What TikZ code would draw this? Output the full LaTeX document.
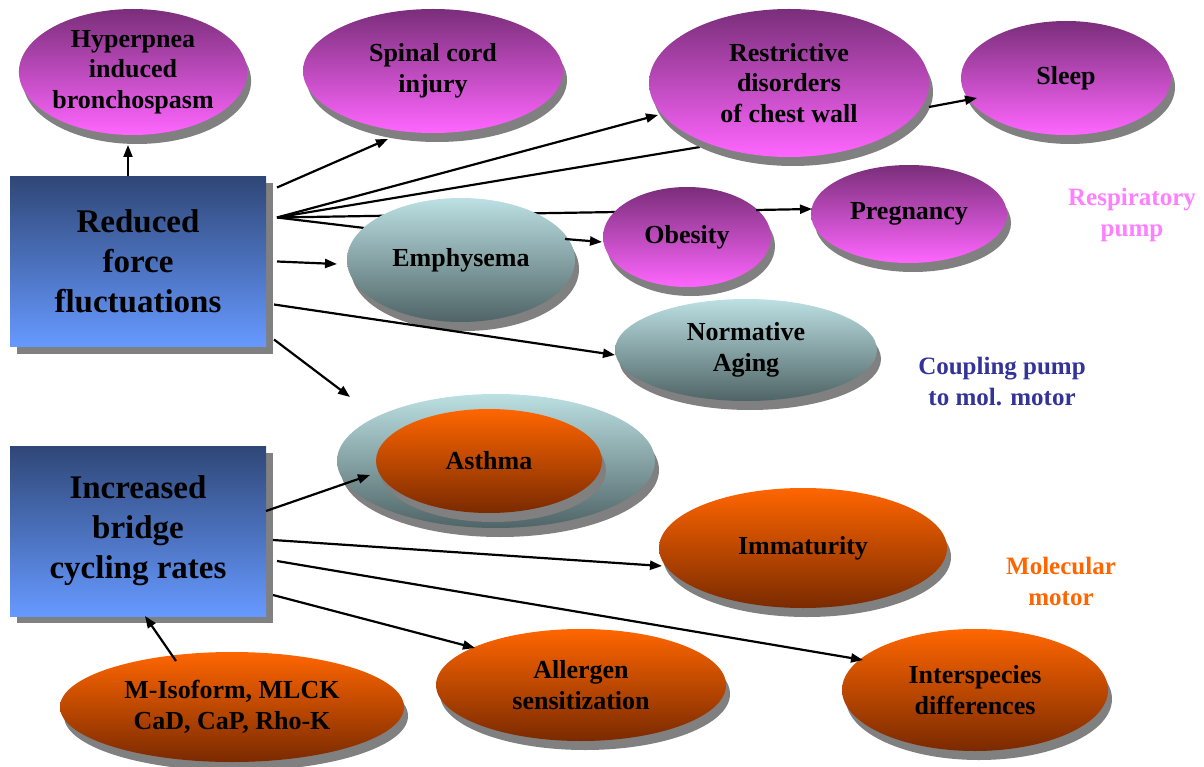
\documentclass[tikz,border=0pt]{standalone}
\usepackage{fontspec}
\setmainfont{Liberation Serif}
\usetikzlibrary{shapes.geometric,shadows,arrows.meta,calc}
\definecolor{purpTop}{HTML}{7A2E7A}
\definecolor{purpBot}{HTML}{FF66FF}
\definecolor{tealTop}{HTML}{BCE0E3}
\definecolor{tealBot}{HTML}{4F6466}
\definecolor{orngTop}{HTML}{FF6600}
\definecolor{orngBot}{HTML}{7A2A00}
\definecolor{boxTop}{HTML}{2F4777}
\definecolor{boxBot}{HTML}{6699FF}
\definecolor{shadowgray}{HTML}{808080}
\definecolor{pinkLab}{HTML}{FF80FF}
\definecolor{blueLab}{HTML}{333399}
\definecolor{orngLab}{HTML}{FF6600}
\newcommand\ellfnt{\fontsize{26pt}{30.5pt}\selectfont\bfseries}
\newcommand\boxfnt{\fontsize{33pt}{40pt}\selectfont\bfseries}
\newcommand\labfnt{\fontsize{25pt}{31pt}\selectfont\bfseries}
\pgfdeclarelayer{bg}
\pgfsetlayers{bg,main}
\tikzset{
  ell/.style={ellipse, inner sep=0pt, outer sep=0pt, align=center, font=\ellfnt,
    general shadow={fill=shadowgray, shadow xshift=4pt, shadow yshift=-9pt}},
  purp/.style={ell, top color=purpTop, bottom color=purpBot},
  teal/.style={ell, top color=tealTop, bottom color=tealBot},
  orng/.style={ell, top color=orngTop, bottom color=orngBot},
  boxst/.style={rectangle, inner sep=0pt, outer sep=0pt, align=center, font=\boxfnt,
    minimum width=256pt, minimum height=170pt, top color=boxTop, bottom color=boxBot,
    general shadow={fill=shadowgray, shadow xshift=7pt, shadow yshift=-7pt}},
  lab/.style={align=center, font=\labfnt, inner sep=0pt},
  arr/.style={-{Triangle[length=12pt,width=9pt]}, line width=2.2pt, black},
  ln/.style={line width=2.2pt, black}
}
\begin{document}
\begin{tikzpicture}[x=1pt,y=-1pt]
\useasboundingbox (0,0) rectangle (1204,767);
% boxes
\node[boxst] (b1) at (138,261.5) {Reduced\\force\\fluctuations};
\node[boxst] (b2) at (138,531) {Increased\\bridge\\cycling rates};
% purple ellipses
\node[purp, minimum width=224pt, minimum height=126pt] (hyp) at (133,72) {Hyperpnea\\induced\\bronchospasm};
\node[purp, minimum width=260pt, minimum height=124pt] (spinal) at (433,71) {Spinal cord\\injury};
\node[purp, minimum width=280pt, minimum height=148pt] (restr) at (789,83) {Restrictive\\disorders\\of chest wall};
\node[purp, minimum width=210pt, minimum height=114pt] (sleep) at (1066,78) {Sleep};
\node[purp, minimum width=196pt, minimum height=98pt] (preg) at (909,214) {Pregnancy};
% teal ellipses
\node[teal, minimum width=228pt, minimum height=124pt] (emph) at (461,260) {Emphysema};
\node[purp, minimum width=168pt, minimum height=100pt] (obes) at (687,237) {Obesity};
\node[teal, minimum width=262pt, minimum height=102pt] (norm) at (746,350) {Normative\\Aging};
\node[teal, minimum width=318pt, minimum height=134pt] (asthO) at (496,461) {};
\node[orng, minimum width=226pt, minimum height=104pt] (asthI) at (489,461) {Asthma};
% orange ellipses
\node[orng, minimum width=288pt, minimum height=120pt] (immat) at (803,548) {Immaturity};
\node[orng, minimum width=290pt, minimum height=112pt] (aller) at (581,685) {Allergen\\sensitization};
\node[orng, minimum width=266pt, minimum height=122pt] (inter) at (975,690) {Interspecies\\differences};
\node[orng, minimum width=344pt, minimum height=110pt] (miso) at (232,707) {M-Isoform, MLCK\\CaD, CaP, Rho-K};
% labels
\node[lab, text=pinkLab] (resp) at (1132,215) {Respiratory\\pump};
\node[lab, text=blueLab] (coup) at (1002,382) {Coupling pump\\to mol. motor};
\node[lab, text=orngLab] (molec) at (1061,581) {Molecular\\motor};
% lines passing behind ellipses
\begin{pgfonlayer}{bg}
\draw[ln] ($(b1.north east)+(11,41)$) -- ($(restr.center)+(-89,64)$);
\draw[ln] ($(b1.north east)+(11,41)$) -- ($(obes.center)+(-70,-25)$);
\draw[ln] ($(b1.north east)+(11,41)$) -- ($(emph.center)+(-80,-30)$);
\end{pgfonlayer}
% arrows
\draw[arr] ($(b1.north)+(-10,0)$) -- ($(hyp.center)+(-5,73)$);
\draw[arr] ($(b1.north east)+(11,11)$) -- ($(spinal.center)+(-45,68)$);
\draw[arr] ($(b1.north east)+(11,41)$) -- ($(restr.center)+(-131,32)$);
\draw[arr] ($(restr.center)+(140,24)$) -- ($(sleep.center)+(-89,20)$);
\draw[arr] ($(b1.north east)+(11,85)$) -- ($(emph.center)+(-124,4)$);
\draw[arr] ($(emph.center)+(104,-21)$) -- ($(obes.center)+(-85,5)$);
\draw[arr] ($(obes.center)+(69,-27)$) -- ($(preg.center)+(-97,-5)$);
\draw[arr] ($(b1.north east)+(8,128)$) -- ($(norm.center)+(-131,5)$);
\draw[arr] ($(b1.north east)+(8,163)$) -- ($(asthO.center)+(-146,-64)$);
\draw[arr] ($(b2.north east)+(0,65)$) -- ($(asthI.center)+(-119,14)$);
\draw[arr] ($(b2.north east)+(7,94)$) -- ($(immat.center)+(-141,18)$);
\draw[arr] ($(b2.north east)+(11,115)$) -- ($(inter.center)+(-112,-30)$);
\draw[arr] ($(b2.north east)+(7,149)$) -- ($(aller.center)+(-106,-37)$);
\draw[arr] ($(miso.center)+(-56,-46)$) -- ($(b2.south)+(7,0)$);
\end{tikzpicture}
\end{document}
